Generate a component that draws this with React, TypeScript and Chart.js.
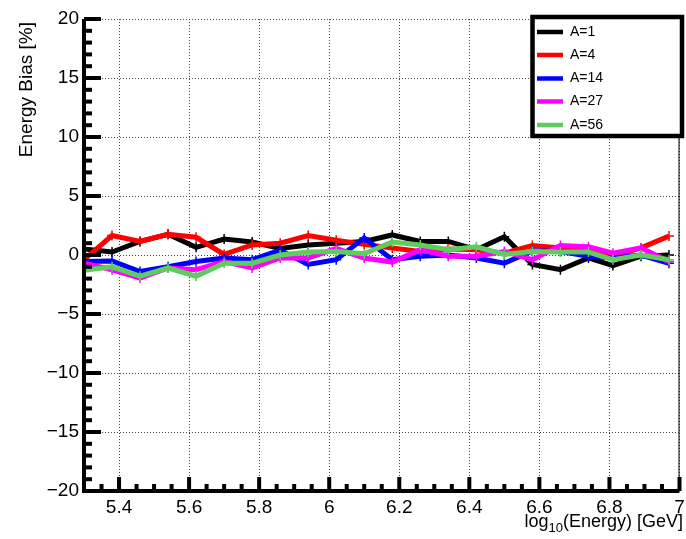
import React, { useEffect, useRef } from "react";
import { Chart, registerables } from "chart.js";

Chart.register(...registerables);

// log10(Energy) of each point
const ENERGY = [5.30, 5.38, 5.46, 5.54, 5.62, 5.70, 5.78, 5.86, 5.94, 6.02, 6.10, 6.18, 6.26, 6.34, 6.42, 6.50, 6.58, 6.66, 6.74, 6.81, 6.89, 6.97];

// Energy bias [%] per species
const BIAS_A1 = [0.5, 0.25, 1.15, 1.75, 0.65, 1.35, 1.1, 0.55, 0.85, 1.0, 1.15, 1.7, 1.15, 1.15, 0.45, 1.55, -0.8, -1.25, -0.25, -0.9, -0.1, 0.0];
const BIAS_A4 = [-0.4, 1.65, 1.15, 1.75, 1.5, 0.05, 0.85, 1.0, 1.65, 1.25, 0.9, 0.6, 0.3, 0.5, 0.45, 0.15, 0.8, 0.6, 0.5, -0.1, 0.6, 1.6];
const BIAS_A14 = [-0.55, -0.5, -1.4, -1.0, -0.55, -0.25, -0.4, 0.4, -0.8, -0.4, 1.45, -0.4, -0.1, 0.0, -0.25, -0.7, 0.35, 0.3, -0.1, -0.25, 0.0, -0.7];
const BIAS_A27 = [-0.7, -1.25, -1.95, -1.1, -1.25, -0.55, -1.1, -0.25, -0.25, 0.55, -0.25, -0.6, 0.45, -0.1, -0.1, 0.3, -0.4, 0.8, 0.7, 0.15, 0.6, -0.55];
const BIAS_A56 = [-1.3, -1.0, -1.8, -1.1, -1.8, -0.7, -0.7, 0.0, 0.25, 0.3, 0.1, 1.1, 0.85, 0.45, 0.7, 0.05, 0.3, 0.25, 0.25, -0.4, 0.0, -0.4];

const SERIES_NAMES = ["A=1", "A=4", "A=14", "A=27", "A=56"];
const SERIES_COLORS = ["#000000", "#ff0000", "#0000ff", "#ff00ff", "#5fcc5f"];
const SERIES_VALUES = [BIAS_A1, BIAS_A4, BIAS_A14, BIAS_A27, BIAS_A56];

// Axis ticks
const X_MIN = 5.3;
const X_MAX = 7.0;
const X_TICKS = [5.4, 5.6, 5.8, 6.0, 6.2, 6.4, 6.6, 6.8, 7.0];
const Y_MIN = -20;
const Y_MAX = 20;
const Y_TICKS = [-20, -15, -10, -5, 0, 5, 10, 15, 20];

const X_TITLE_MAIN = "log";
const X_TITLE_SUB = "10";
const X_TITLE_REST = "(Energy) [GeV]";
const Y_TITLE = "Energy Bias [%]";

const FONT = "'Liberation Sans', Arial, Helvetica, sans-serif";

function fmtY(v: number): string {
  return v < 0 ? "\u2212" + Math.abs(v) : String(v);
}
function fmtX(v: number): string {
  return String(Math.round(v * 10) / 10);
}

const rootPlugin = {
  id: "rootStyle",
  afterDraw(chart: any) {
    const { ctx, chartArea: a } = chart;
    const xs = chart.scales.x;
    const ys = chart.scales.y;
    ctx.save();
    ctx.fillStyle = "#000";

    // right border
    ctx.fillRect(a.right - 1, a.top, 1, a.bottom - a.top);

    // y ticks (major every 5, minor every 1)
    for (let v = Y_MIN; v <= Y_MAX; v += 1) {
      const py = ys.getPixelForValue(v);
      const major = Y_TICKS.includes(v);
      const len = major ? 17 : 8;
      ctx.fillRect(a.left, py - 2, len, 4);
    }
    // x ticks (major every 0.2, minor every 0.05)
    for (let k = 0; k <= 34; k++) {
      const v = X_MIN + k * 0.05;
      const px = xs.getPixelForValue(v);
      const major = X_TICKS.some((t) => Math.abs(t - v) < 1e-6);
      const len = major ? 14 : 7;
      ctx.fillRect(px - 2, a.bottom - len, 4, len);
    }
    // thick axes
    ctx.fillRect(a.left - 2, a.top, 4, a.bottom - a.top + 2);
    ctx.fillRect(a.left - 2, a.bottom - 2, a.right - a.left + 2, 4);

    // x tick labels
    ctx.font = `19px ${FONT}`;
    ctx.textBaseline = "middle";
    ctx.textAlign = "center";
    for (const t of X_TICKS) {
      const txt = fmtX(t);
      let px = xs.getPixelForValue(t);
      const w = ctx.measureText(txt).width;
      if (px + w / 2 > chart.width - 1) px = chart.width - 1 - w / 2;
      ctx.fillText(txt, px, a.bottom + 17);
    }

    // x title with subscript
    ctx.textBaseline = "alphabetic";
    ctx.textAlign = "left";
    const mainFont = `18px ${FONT}`;
    const subFont = `13px ${FONT}`;
    ctx.font = mainFont;
    const w1 = ctx.measureText(X_TITLE_MAIN).width;
    const w3 = ctx.measureText(X_TITLE_REST).width;
    ctx.font = subFont;
    const w2 = ctx.measureText(X_TITLE_SUB).width;
    const endX = 683;
    let sx = endX - (w1 + w2 + w3);
    const by = 527;
    ctx.font = mainFont;
    ctx.fillText(X_TITLE_MAIN, sx, by);
    sx += w1;
    ctx.font = subFont;
    ctx.fillText(X_TITLE_SUB, sx, by + 5);
    sx += w2;
    ctx.font = mainFont;
    ctx.fillText(X_TITLE_REST, sx, by);

    // y title (rotated, aligned to top)
    ctx.save();
    ctx.translate(27, 22);
    ctx.rotate(-Math.PI / 2);
    ctx.font = `19px ${FONT}`;
    ctx.textAlign = "right";
    ctx.textBaseline = "middle";
    ctx.fillText(Y_TITLE, 0, 0);
    ctx.restore();

    // legend box
    const L = 532.5, T = 17, R = 682, B = 136;
    ctx.fillStyle = "#fff";
    ctx.fillRect(L, T, R - L, B - T);
    ctx.strokeStyle = "#000";
    ctx.lineWidth = 4.5;
    ctx.strokeRect(L, T, R - L, B - T);
    ctx.font = `14px ${FONT}`;
    ctx.textBaseline = "middle";
    ctx.textAlign = "left";
    const rowYs = [32, 55, 78.5, 101.5, 125];
    for (let i = 0; i < SERIES_NAMES.length; i++) {
      const yy = rowYs[i];
      ctx.strokeStyle = SERIES_COLORS[i];
      ctx.lineWidth = 4.5;
      ctx.beginPath();
      ctx.moveTo(537, yy);
      ctx.lineTo(563, yy);
      ctx.stroke();
      ctx.fillStyle = "#000";
      ctx.fillText(SERIES_NAMES[i], 570, yy);
    }
    ctx.restore();
  },
};

export default function App() {
  const ref = useRef<HTMLCanvasElement | null>(null);

  useEffect(() => {
    if (!ref.current) return;
    const datasets = SERIES_NAMES.map((name, i) => ({
      label: name,
      data: ENERGY.map((x, j) => ({ x, y: SERIES_VALUES[i][j] })),
      borderColor: SERIES_COLORS[i],
      backgroundColor: SERIES_COLORS[i],
      borderWidth: 5,
      pointStyle: "cross",
      pointRadius: 5,
      pointBorderWidth: 1.5,
      pointBorderColor: SERIES_COLORS[i],
      tension: 0,
      fill: false,
      order: SERIES_NAMES.length - 1 - i,
    }));

    const chart = new Chart(ref.current, {
      type: "line",
      data: { datasets },
      options: {
        responsive: false,
        animation: false,
        devicePixelRatio: 1,
        layout: { padding: { left: 0, top: 19, right: 2, bottom: 0 } },
        plugins: {
          legend: { display: false },
          tooltip: { enabled: false },
          title: { display: false },
        },
        scales: {
          x: {
            type: "linear",
            min: X_MIN,
            max: X_MAX,
            afterBuildTicks: (s: any) => {
              s.ticks = X_TICKS.map((v) => ({ value: v }));
            },
            afterFit: (s: any) => {
              s.height = 48;
              s.paddingLeft = 0;
              s.paddingRight = 0;
            },
            ticks: { display: false },
            grid: { color: "#444", lineWidth: 1, drawTicks: false },
            border: { display: false, dash: [1, 2] },
          },
          y: {
            type: "linear",
            min: Y_MIN,
            max: Y_MAX,
            afterBuildTicks: (s: any) => {
              s.ticks = Y_TICKS.map((v) => ({ value: v }));
            },
            afterFit: (s: any) => {
              s.width = 84;
              s.paddingTop = 0;
              s.paddingBottom = 0;
            },
            ticks: {
              autoSkip: false,
              padding: 5,
              color: "#000",
              font: { family: FONT, size: 19 },
              callback: (v: any) => fmtY(Number(v)),
            },
            grid: { color: "#444", lineWidth: 1, drawTicks: false },
            border: { display: false, dash: [1, 2] },
          },
        },
      },
      plugins: [rootPlugin],
    } as any);

    return () => chart.destroy();
  }, []);

  return (
    <div style={{ position: "fixed", left: 0, top: 0, width: 686, height: 539, background: "#fff" }}>
      <canvas ref={ref} width={686} height={539} style={{ display: "block" }} />
    </div>
  );
}
